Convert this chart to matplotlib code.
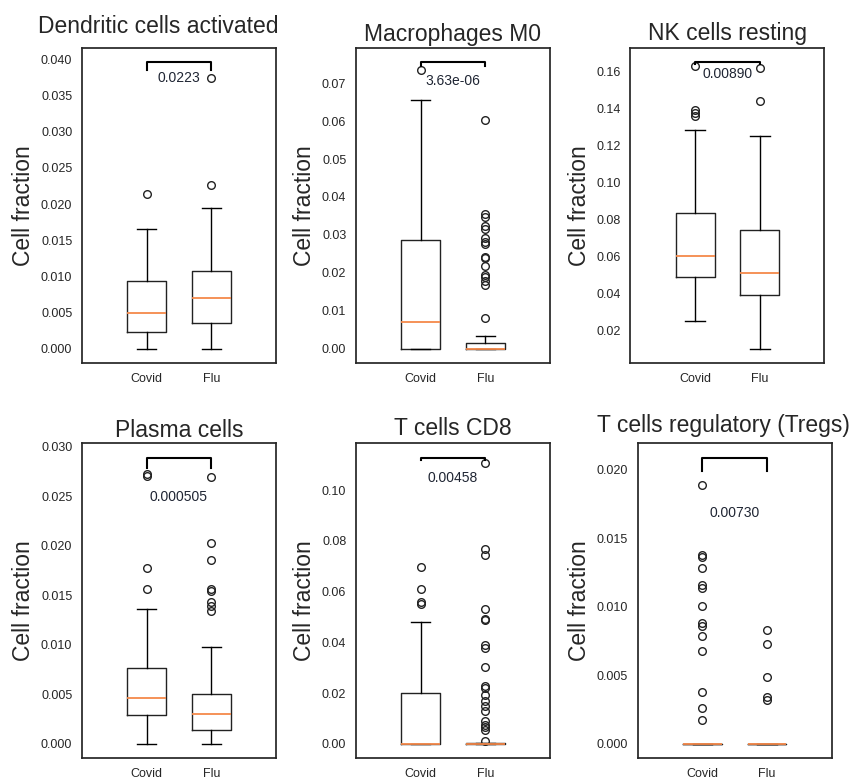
import matplotlib
matplotlib.use('Agg')
import matplotlib.pyplot as plt
from matplotlib.ticker import MultipleLocator

plt.rcParams['font.family'] = ['Liberation Sans', 'DejaVu Sans']

groups = ['Covid', 'Flu']

titles = ['Dendritic cells activated', 'Macrophages M0', 'NK cells resting',
          'Plasma cells', 'T cells CD8', 'T cells regulatory (Tregs)']

# whislo, q1, median, q3, whishi
covid_box = [
    [0.0, 0.0023, 0.0050, 0.0094, 0.0166],
    [0.0, 0.0, 0.0070, 0.0287, 0.0656],
    [0.0249, 0.0487, 0.0601, 0.0838, 0.1286],
    [0.0, 0.0029, 0.0046, 0.0077, 0.0136],
    [0.0, 0.0, 0.0, 0.0201, 0.0482],
    [0.0, 0.0, 0.0, 0.0, 0.0],
]
flu_box = [
    [0.0, 0.0036, 0.0070, 0.0108, 0.0195],
    [0.0, 0.0, 0.0, 0.0016, 0.0033],
    [0.0101, 0.0390, 0.0513, 0.0744, 0.1251],
    [0.0, 0.0014, 0.0030, 0.0050, 0.0098],
    [0.0, 0.0, 0.0, 0.0002, 0.0004],
    [0.0, 0.0, 0.0, 0.0, 0.0],
]

covid_fliers = [
    [0.0214],
    [0.0734],
    [0.1360, 0.1376, 0.1392, 0.1630],
    [0.01561, 0.0178, 0.02707, 0.0272],
    [0.0553, 0.0560, 0.0611, 0.0699],
    [0.01893, 0.0138, 0.01366, 0.01288, 0.01161, 0.01137, 0.01007, 0.00883,
     0.00861, 0.00788, 0.00678, 0.00378, 0.00263, 0.00178],
]
flu_fliers = [
    [0.02265, 0.0375],
    [0.0082, 0.0169, 0.0178, 0.0189, 0.0193, 0.0218, 0.0238, 0.0242, 0.0275,
     0.0280, 0.0291, 0.0316, 0.0323, 0.0346, 0.0354, 0.0602],
    [0.1441, 0.1622],
    [0.01338, 0.0139, 0.01433, 0.01544, 0.0156, 0.0186, 0.02026, 0.0269],
    [0.00105, 0.00565, 0.0066, 0.0076, 0.0089, 0.0129, 0.0151, 0.0168, 0.0194,
     0.0221, 0.0227, 0.0302, 0.0378, 0.0388, 0.0490, 0.0494, 0.0532, 0.0744,
     0.0770, 0.1108],
    [0.00832, 0.00732, 0.00488, 0.00341, 0.00324],
]

pvalues = ['0.0223', '3.63e-06', '0.00890', '0.000505', '0.00458', '0.00730']
bracket_top = [0.0396, 0.0755, 0.1651, 0.0289, 0.1128, 0.0209]
bracket_end = [0.0385, 0.0744, 0.1643, 0.0279, 0.1118, 0.01995]
pvalue_y = [0.0375, 0.0706, 0.1588, 0.02495, 0.1046, 0.01683]
ytick_step = [0.005, 0.01, 0.02, 0.005, 0.02, 0.005]

# layout (pixels): left, top; title x (axes frac) and pad (pt)
W, H = 853, 778
ax_w, ax_h = 194, 315
ax_pos = [(82, 48), (356, 48), (630.5, 48), (82, 443.3), (356, 443.3), (637.7, 443.3)]
title_x = [0.394, 0.5, 0.5, 0.5, 0.5, 0.44]
title_pad = [10.6, 4.8, 5.8, 4.8, 6.0, 7.9]

fig = plt.figure(figsize=(W / 100, H / 100), dpi=100)

for i in range(6):
    left, top = ax_pos[i]
    ax = fig.add_axes([left / W, (H - top - ax_h) / H, ax_w / W, ax_h / H])

    stats = []
    for box, fl, name in [(covid_box[i], covid_fliers[i], groups[0]),
                          (flu_box[i], flu_fliers[i], groups[1])]:
        stats.append(dict(whislo=box[0], q1=box[1], med=box[2], q3=box[3],
                          whishi=box[4], fliers=fl, label=name))

    ax.bxp(stats, positions=[1, 2], widths=0.6,
           boxprops=dict(color='#222222', lw=1),
           whiskerprops=dict(color='black', lw=1),
           capprops=dict(color='black', lw=1),
           medianprops=dict(color='#f5894a', lw=1.3, zorder=3),
           flierprops=dict(marker='o', mfc='none', mec='#222222', ms=5.5, mew=1))

    # significance bracket
    ax.plot([1, 1, 2, 2], [bracket_end[i], bracket_top[i], bracket_top[i], bracket_end[i]],
            color='black', lw=1.5)
    ax.text(1.5, pvalue_y[i], pvalues[i], ha='center', va='center',
            fontsize=10, color='#1f2533')

    ax.set_xlim(0, 3)
    ax.yaxis.set_major_locator(MultipleLocator(ytick_step[i]))
    ax.tick_params(length=0, pad=7, labelsize=9, colors='#262626')
    for s in ax.spines.values():
        s.set_color('#262626')
        s.set_linewidth(1.25)

    ax.set_title(titles[i], fontsize=16.5, color='#262626', x=title_x[i], pad=title_pad[i])
    ax.set_ylabel('Cell fraction', fontsize=16.5, color='#262626')

fig.savefig('out.png', dpi=100)
